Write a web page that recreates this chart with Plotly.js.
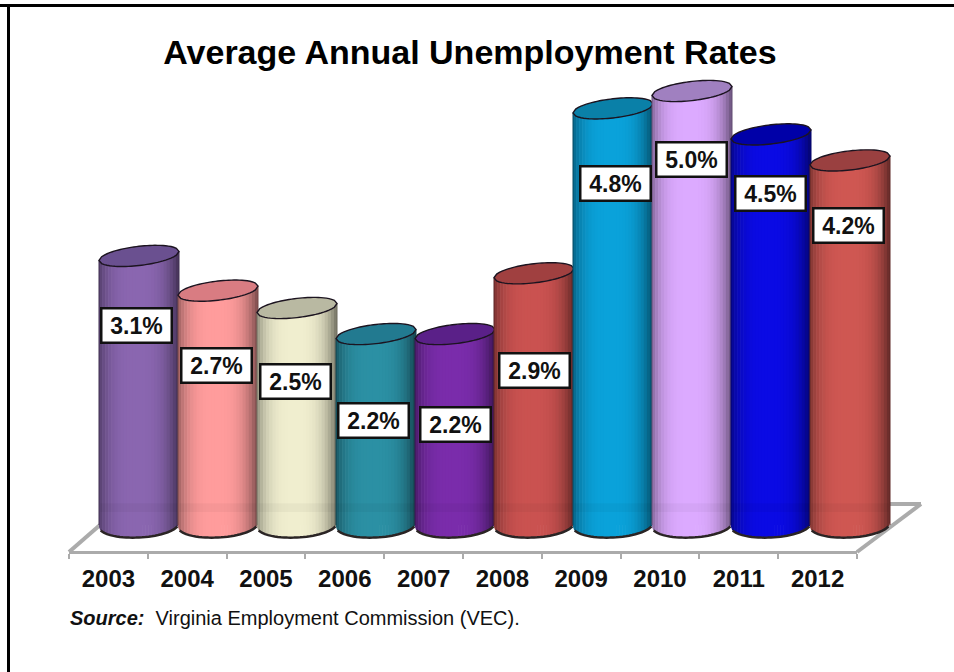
<!DOCTYPE html>
<html>
<head>
<meta charset="utf-8">
<script src="https://cdn.plot.ly/plotly-3.0.1.min.js"></script>
<style>html,body{margin:0;padding:0;background:#fff;overflow:hidden}#c{width:954px;height:672px}</style>
</head>
<body>
<div id="c"></div>
<script>
const years = [2003, 2004, 2005, 2006, 2007, 2008, 2009, 2010, 2011, 2012];
const rates = [3.1, 2.7, 2.5, 2.2, 2.2, 2.9, 4.8, 5.0, 4.5, 4.2];
const bodyColors = ['#8a66b0', '#ff9c9c', '#f0eecf', '#2b90a4', '#7a2cab', '#ca5250', '#0aa2da', '#dcaaff', '#0a0ae4', '#cf5752'];
const capColors = ['#6a5090', '#d97c82', '#b9b9a2', '#227a90', '#5a2088', '#a04040', '#0a80a8', '#a080c0', '#0000a8', '#9a4040'];
const labelDrop = [70, 75, 73, 86, 90, 97, 75, 68, 59, 65];
const labelNudge = [-3, -2, -2, -3, 0, 0, 2, -1, -1, -2];

const W = 954, H = 672;
const pxPerUnitY = 86.8, zeroY = 525, pxPerYear = 79, firstCentre = 139;
const frontLeft = 69, frontRight = 857, axisY = 552;
const halfW = 40 / pxPerYear, capTilt = 4.5 / pxPerUnitY, capB = 9.6 / pxPerUnitY;
const baseTilt = 2 / pxPerUnitY, baseB = 12.5 / pxPerUnitY;
const STRIPS = 26;

function shade(hex, f) {
  const n = parseInt(hex.slice(1), 16);
  const c = [n >> 16, (n >> 8) & 255, n & 255].map(v => Math.round(v * f));
  return 'rgb(' + c.join(',') + ')';
}
function baseArc(x0, from, to, steps) {
  const pts = [];
  for (let i = 0; i <= steps; i++) {
    const u = from + (to - from) * i / steps;
    pts.push([x0 + u * halfW, u * baseTilt - baseB * Math.sqrt(Math.max(0, 1 - u * u))]);
  }
  return pts;
}
function toPath(pts, close) {
  return pts.map((p, i) => (i ? 'L' : 'M') + p[0].toFixed(4) + ',' + p[1].toFixed(4)).join(' ') + (close ? ' Z' : '');
}
const shapes = [];
const line = (x0, y0, x1, y1, w) => ({type: 'line', xref: 'paper', yref: 'paper', layer: 'below',
  x0: x0 / W, x1: x1 / W, y0: 1 - y0 / H, y1: 1 - y1 / H, line: {color: '#ababab', width: w}});
shapes.push(line(frontLeft, axisY, 100, 525, 4), line(frontRight, axisY, 921, 504, 4), line(880, 504, 921, 504, 4));

years.forEach((yr, k) => {
  const v = rates[k], col = bodyColors[k];
  for (let s = 0; s < STRIPS; s++) {
    const u1 = -1 + 2 * s / STRIPS, u2 = Math.min(1, -1 + 2 * (s + 1) / STRIPS + 0.015);
    const m = Math.abs((u1 + u2) / 2 + 0.05);
    const f = 1 - 0.45 * Math.pow(m, 3.2);
    const lower = baseArc(yr, u2, u1, 4);
    const top = [[yr + u1 * halfW, v + capTilt * u1], [yr + u2 * halfW, v + capTilt * u2]];
    shapes.push({type: 'path', xref: 'x2', yref: 'y', layer: 'above', path: toPath(top.concat(lower), true),
      fillcolor: shade(col, f), line: {width: 0}});
  }
  // faint band near the foot
  shapes.push({type: 'path', xref: 'x2', yref: 'y', layer: 'above',
    path: toPath([[yr - 0.49, 0.25], [yr + 0.49, 0.25], [yr + 0.49, 0.15], [yr - 0.49, 0.15]], true),
    fillcolor: 'rgba(0,0,0,0.035)', line: {width: 0}});
  // dark rim under the base
  shapes.push({type: 'path', xref: 'x2', yref: 'y', layer: 'above',
    path: toPath(baseArc(yr, -0.96, 0.96, 24), false),
    fillcolor: 'rgba(0,0,0,0)', line: {color: '#2a2424', width: 2.5}});
  // side edges
  [-1, 1].forEach(u => shapes.push({type: 'path', xref: 'x2', yref: 'y', layer: 'above',
    path: toPath([[yr + u * halfW, v + u * capTilt], [yr + u * halfW, 0]], false),
    fillcolor: 'rgba(0,0,0,0)', line: {color: shade(col, 0.45), width: 1}}));
  // cap
  const capTop = [], capBot = [];
  for (let i = 0; i <= 30; i++) {
    const u = -1 + 2 * i / 30, r = Math.sqrt(1 - u * u);
    capTop.push([yr + u * halfW, v + u * capTilt + capB * r]);
    capBot.unshift([yr + u * halfW, v + u * capTilt - capB * r]);
  }
  shapes.push({type: 'path', xref: 'x2', yref: 'y', layer: 'above', path: toPath(capTop.concat(capBot), true),
    fillcolor: capColors[k], line: {color: '#1c1420', width: 1.4}});
});

const annotations = years.map((yr, k) => ({
  xref: 'x2', yref: 'y', x: yr, y: rates[k], yshift: -labelDrop[k], xshift: labelNudge[k],
  text: '<b>' + rates[k].toFixed(1) + '%</b>', showarrow: false,
  font: {family: 'Liberation Sans', size: 23, color: '#111'},
  bgcolor: '#fff', bordercolor: '#111', borderwidth: 2.5, width: 66, height: 30, borderpad: 1,
  align: 'center', valign: 'middle', xanchor: 'center', yanchor: 'middle'
}));
annotations.push({
  xref: 'paper', yref: 'paper', x: 68 / W, y: 1 - 618 / H, xanchor: 'left', yanchor: 'middle', showarrow: false,
  text: '<b><i>Source:</i></b>  Virginia Employment Commission (VEC).',
  font: {family: 'Liberation Sans', size: 20, color: '#111'}
});
shapes.push({type: 'rect', xref: 'paper', yref: 'paper', layer: 'above', x0: 0, x1: 1, y0: 1 - 7 / H, y1: 1 - 4 / H, fillcolor: '#000', line: {width: 0}});
shapes.push({type: 'rect', xref: 'paper', yref: 'paper', layer: 'above', x0: 7 / W, x1: 10 / W, y0: 0, y1: 1 - 4 / H, fillcolor: '#000', line: {width: 0}});

const traces = [
  {type: 'scatter', x: years.map(String), y: years.map(() => 0), xaxis: 'x', yaxis: 'y', mode: 'markers',
   marker: {opacity: 0, size: 1}, hoverinfo: 'skip', showlegend: false},
  {type: 'bar', x: years, y: rates, xaxis: 'x2', yaxis: 'y', width: 0.7,
   marker: {color: bodyColors}, showlegend: false}
];
const layout = {
  width: W, height: H, margin: {l: 0, r: 0, t: 0, b: 0, pad: 0}, autosize: false,
  paper_bgcolor: '#fff', plot_bgcolor: 'rgba(0,0,0,0)', showlegend: false,
  title: {text: '<b>Average Annual Unemployment Rates</b>', x: 470 / W, xanchor: 'center', y: 1 - 52 / H, yanchor: 'middle',
    font: {family: 'Liberation Sans', size: 34, color: '#000'}},
  xaxis: {type: 'category', categoryorder: 'array', categoryarray: years.map(String), range: [-0.5, 9.5],
    domain: [frontLeft / W, frontRight / W], anchor: 'free', position: (H - axisY) / H,
    showline: true, linecolor: '#ababab', linewidth: 3, showgrid: false, zeroline: false, tickson: 'boundaries',
    ticks: 'outside', ticklen: 5, tickwidth: 2, tickcolor: '#ababab', ticklabelstandoff: 4,
    tickfont: {family: 'Liberation Sans', size: 24, color: '#111', weight: 'bold'}},
  xaxis2: {type: 'linear', range: [2002.4, 2012.6],
    domain: [(firstCentre - 0.6 * pxPerYear) / W, (firstCentre + 9.6 * pxPerYear) / W],
    anchor: 'y', visible: false, showgrid: false, zeroline: false},
  yaxis: {range: [-(H - zeroY) / pxPerUnitY, zeroY / pxPerUnitY], domain: [0, 1], visible: false, showgrid: false, zeroline: false, fixedrange: true},
  shapes: shapes, annotations: annotations, bargap: 0
};
Plotly.newPlot('c', traces, layout, {displayModeBar: false, responsive: false});
</script>
</body>
</html>
